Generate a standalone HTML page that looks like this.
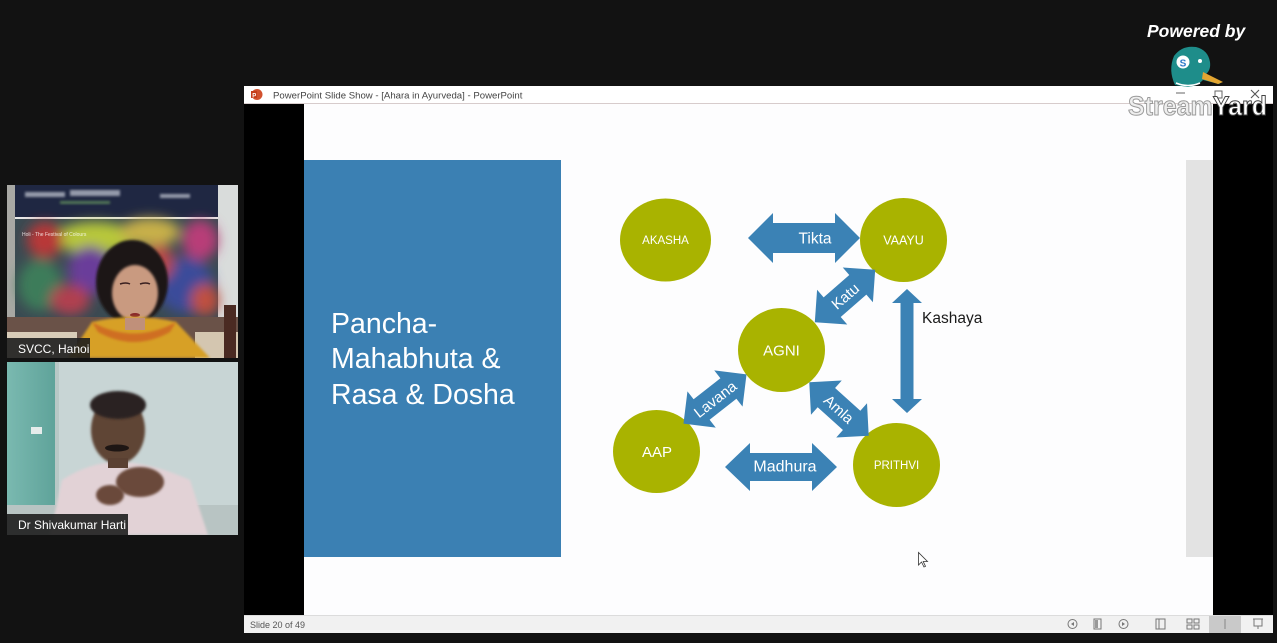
<!DOCTYPE html>
<html>
<head>
<meta charset="utf-8">
<style>
  html,body{margin:0;padding:0;background:#121212;}
  body{width:1277px;height:643px;overflow:hidden;position:relative;font-family:"Liberation Sans",sans-serif;}
  svg{position:absolute;left:0;top:0;}
</style>
</head>
<body>
<svg width="1277" height="643" viewBox="0 0 1277 643" xmlns="http://www.w3.org/2000/svg" font-family="Liberation Sans, sans-serif">
  <defs>
    <filter id="b3" x="-20%" y="-20%" width="140%" height="140%"><feGaussianBlur stdDeviation="3"/></filter>
    <filter id="b6" x="-30%" y="-30%" width="160%" height="160%"><feGaussianBlur stdDeviation="6"/></filter>
    <filter id="b1"><feGaussianBlur stdDeviation="1.2"/></filter>
    <clipPath id="t1"><rect x="7" y="185" width="231" height="173"/></clipPath>
    <clipPath id="t2"><rect x="7" y="362" width="231" height="173"/></clipPath>
    <linearGradient id="wall2" x1="0" y1="0" x2="1" y2="0">
      <stop offset="0" stop-color="#7ab9b0"/>
      <stop offset="1" stop-color="#5fa39a"/>
    </linearGradient>
  </defs>

  <!-- background -->
  <rect x="0" y="0" width="1277" height="643" fill="#121212"/>

  <!-- ===== Video tile 1 ===== -->
  <g clip-path="url(#t1)">
    <rect x="7" y="185" width="231" height="173" fill="#b9b9b6"/>
    <rect x="218" y="185" width="20" height="140" fill="#d9dcdb"/>
    <rect x="7" y="185" width="9" height="140" fill="#a8a8a4"/>
    <!-- navy banner -->
    <rect x="15" y="185" width="203" height="32" fill="#1f2742"/>
    <g filter="url(#b1)" fill="#c8ccd8" opacity="0.7">
      <rect x="25" y="192" width="40" height="5"/>
      <rect x="70" y="190" width="50" height="6"/>
      <rect x="160" y="194" width="30" height="4"/>
      <rect x="60" y="201" width="50" height="3" fill="#6a9a60"/>
    </g>
    <rect x="15" y="217" width="203" height="2" fill="#e8e8e8"/>
    <!-- painting -->
    <rect x="15" y="219" width="203" height="99" fill="#3a4a52"/>
    <g filter="url(#b6)">
      <ellipse cx="95" cy="238" rx="40" ry="16" fill="#b8c83a"/>
      <ellipse cx="45" cy="240" rx="18" ry="18" fill="#b83838"/>
      <ellipse cx="150" cy="232" rx="30" ry="14" fill="#c8b048"/>
      <ellipse cx="200" cy="240" rx="18" ry="20" fill="#b83c78"/>
      <ellipse cx="90" cy="270" rx="22" ry="24" fill="#6a3c9a"/>
      <ellipse cx="185" cy="285" rx="28" ry="28" fill="#3a4c9a"/>
      <ellipse cx="40" cy="285" rx="22" ry="26" fill="#3c7c5a"/>
      <ellipse cx="70" cy="300" rx="20" ry="15" fill="#b04050"/>
      <ellipse cx="205" cy="300" rx="14" ry="16" fill="#c05040"/>
      <ellipse cx="160" cy="262" rx="14" ry="18" fill="#b84a48"/>
    </g>
    <text x="22" y="236" font-size="5" fill="#ffffff" opacity="0.8">Holi - The Festival of Colours</text>
    <!-- wall / chair below -->
    <rect x="7" y="317" width="231" height="41" fill="#6a5248"/>
    <rect x="7" y="332" width="70" height="26" fill="#d8ccb8"/>
    <rect x="195" y="332" width="43" height="26" fill="#d4c6b0"/>
    <rect x="224" y="305" width="12" height="53" fill="#4a2a22"/>
    <!-- woman -->
    <ellipse cx="132" cy="282" rx="36" ry="42" fill="#1c1616" filter="url(#b1)"/>
    <ellipse cx="135" cy="293" rx="23" ry="28" fill="#c99a80" filter="url(#b1)"/>
    <ellipse cx="135" cy="315" rx="5" ry="2" fill="#8a2a2a"/>
    <path d="M120 284 q6 -2 10 0 M140 284 q6 -2 10 0" stroke="#3a2020" stroke-width="1.5" fill="none"/>
    <path d="M68 358 L92 322 Q134 312 176 322 L210 358 Z" fill="#d7a026" filter="url(#b1)"/>
    <path d="M92 322 Q134 345 176 322 L170 332 Q134 352 98 332 Z" fill="#cf6e20" filter="url(#b1)"/>
    <rect x="125" y="318" width="20" height="12" fill="#c0907a"/>
  </g>
  <rect x="7" y="338" width="83" height="20" fill="#1e1e1e" opacity="0.9"/>
  <text x="18" y="353" font-size="12" fill="#ffffff">SVCC, Hanoi</text>

  <!-- ===== Video tile 2 ===== -->
  <g clip-path="url(#t2)">
    <rect x="7" y="362" width="231" height="173" fill="#c8d5d5"/>
    <rect x="7" y="362" width="48" height="173" fill="url(#wall2)"/>
    <rect x="55" y="362" width="4" height="173" fill="#b8c8c6"/>
    <rect x="31" y="427" width="11" height="7" fill="#e6eceb"/>
    <rect x="7" y="505" width="231" height="30" fill="#b8c4c3"/>
    <!-- man -->
    <path d="M50 535 L62 480 Q90 462 118 462 Q150 462 190 480 L208 535 Z" fill="#e2d2d6" filter="url(#b1)"/>
    <ellipse cx="118" cy="430" rx="27" ry="34" fill="#5e4436" filter="url(#b1)"/>
    <ellipse cx="118" cy="405" rx="28" ry="14" fill="#2a2220" filter="url(#b1)"/>
    <ellipse cx="117" cy="448" rx="12" ry="3.5" fill="#1e1614"/>
    <rect x="108" y="458" width="20" height="10" fill="#5a4032"/>
    <ellipse cx="140" cy="482" rx="24" ry="15" fill="#6a4a3a" filter="url(#b1)"/>
    <ellipse cx="110" cy="495" rx="14" ry="10" fill="#6a4a3a" filter="url(#b1)"/>
  </g>
  <rect x="7" y="514" width="121" height="21" fill="#1e1e1e" opacity="0.9"/>
  <text x="18" y="529" font-size="12" fill="#ffffff">Dr Shivakumar Harti</text>

  <!-- ===== PowerPoint window ===== -->
  <rect x="244" y="86" width="1029" height="547" fill="#000000"/>
  <!-- title bar -->
  <rect x="244" y="86" width="1029" height="17" fill="#ffffff"/>
  <rect x="244" y="103" width="1029" height="1" fill="#d7cccc"/>
  <circle cx="257" cy="94.5" r="5.5" fill="#d2512e"/>
  <rect x="251" y="91" width="6" height="7" fill="#c43e1c"/>
  <text x="252.2" y="97.3" font-size="6" font-weight="bold" fill="#ffffff">P</text>
  <text x="273" y="98.5" font-size="9.6" fill="#444444">PowerPoint Slide Show - [Ahara in Ayurveda] - PowerPoint</text>
  <!-- window controls -->
  <line x1="1176" y1="93" x2="1185" y2="93" stroke="#666" stroke-width="1"/>
  <rect x="1215" y="91" width="7" height="7" fill="none" stroke="#666" stroke-width="1"/>
  <path d="M1251 90 L1259 98 M1259 90 L1251 98" stroke="#555" stroke-width="1.1"/>

  <!-- slide -->
  <rect x="304" y="104" width="909" height="511" fill="#fdfdfe"/>
  <rect x="304" y="160" width="257" height="397" fill="#3b80b3"/>
  <rect x="1186" y="160" width="27" height="397" fill="#e3e3e3"/>
  <g font-size="28.5" fill="#ffffff">
    <text x="331" y="333">Pancha-</text>
    <text x="331" y="368">Mahabhuta &amp;</text>
    <text x="331" y="404">Rasa &amp; Dosha</text>
  </g>

  <!-- circles -->
  <g fill="#a9b300">
    <ellipse cx="665.5" cy="240" rx="45.5" ry="41.5"/>
    <ellipse cx="903.5" cy="240" rx="43.5" ry="42"/>
    <ellipse cx="781.5" cy="350" rx="43.5" ry="42"/>
    <ellipse cx="656.5" cy="451.5" rx="43.5" ry="41.5"/>
    <ellipse cx="896.5" cy="465" rx="43.5" ry="42"/>
  </g>
  <g fill="#ffffff" text-anchor="middle">
    <text x="665.5" y="244" font-size="11.5">AKASHA</text>
    <text x="903.5" y="244.5" font-size="12.5">VAAYU</text>
    <text x="781.5" y="355.5" font-size="15">AGNI</text>
    <text x="657" y="457" font-size="15">AAP</text>
    <text x="896.5" y="469" font-size="11.5">PRITHVI</text>
  </g>

  <!-- arrows -->
  <g fill="#3b82b5">
    <polygon transform="translate(804,238)" points="-56,0 -31,-25 -31,-15 31,-15 31,-25 56,0 31,25 31,15 -31,15 -31,25"/>
    <polygon transform="translate(781,467)" points="-56,0 -31,-24 -31,-14 31,-14 31,-24 56,0 31,24 31,14 -31,14 -31,24"/>
    <polygon transform="translate(907,351) rotate(90)" points="-62,0 -48,-15 -48,-6.5 48,-6.5 48,-15 62,0 48,15 48,6.5 -48,6.5 -48,15"/>
    <polygon transform="translate(845,296) rotate(-41)" points="-40,0 -17,-23 -17,-13 17,-13 17,-23 40,0 17,23 17,13 -17,13 -17,23"/>
    <polygon transform="translate(715,399) rotate(-38)" points="-40,0 -17,-23 -17,-13 17,-13 17,-23 40,0 17,23 17,13 -17,13 -17,23"/>
    <polygon transform="translate(839,409) rotate(42)" points="-40,0 -17,-23 -17,-13 17,-13 17,-23 40,0 17,23 17,13 -17,13 -17,23"/>
  </g>
  <g fill="#ffffff" text-anchor="middle">
    <text x="815" y="243.5" font-size="15.5">Tikta</text>
    <text x="785" y="471.5" font-size="16">Madhura</text>
    <text transform="translate(845,296) rotate(-41)" y="5.5" font-size="15">Katu</text>
    <text transform="translate(715,399) rotate(-38)" y="5.5" font-size="15">Lavana</text>
    <text transform="translate(839,409) rotate(42)" y="5.5" font-size="15">Amla</text>
  </g>
  <text x="922" y="323" font-size="15.5" fill="#1a1a1a">Kashaya</text>

  <!-- mouse cursor -->
  <path d="M918.5 552.5 L918.5 565 L921.5 562 L924 567 L925.5 566.3 L923.2 561.5 L927.5 561.5 Z" fill="#ffffff" stroke="#333" stroke-width="0.8"/>

  <!-- status bar -->
  <rect x="244" y="615" width="1029" height="18" fill="#f1f1f1"/>
  <rect x="244" y="615" width="1029" height="1" fill="#dcdcdc"/>
  <text x="250" y="628" font-size="9" fill="#555555">Slide 20 of 49</text>
  <rect x="1209" y="616" width="32" height="17" fill="#c9c9c9"/>
  <g fill="none" stroke="#777" stroke-width="1">
    <circle cx="1072.5" cy="624" r="4.5"/>
    <rect x="1094" y="619" width="7" height="10"/>
    <circle cx="1123.5" cy="624" r="4.5"/>
    <rect x="1156" y="619" width="9" height="10"/>
    <line x1="1159" y1="619" x2="1159" y2="629"/>
    <rect x="1187" y="619" width="5" height="4"/>
    <rect x="1194" y="619" width="5" height="4"/>
    <rect x="1187" y="625" width="5" height="4"/>
    <rect x="1194" y="625" width="5" height="4"/>
    <line x1="1225" y1="619" x2="1225" y2="629" stroke="#888"/>
    <path d="M1253 619 L1263 619 M1254 619 L1254 626 L1262 626 L1262 619 M1258 626 L1258 629"/>
  </g>
  <polygon points="1071,624 1074,622 1074,626" fill="#777"/>
  <polygon points="1125,624 1122,622 1122,626" fill="#777"/>
  <rect x="1095" y="620" width="3" height="8" fill="#999"/>

  <!-- ===== StreamYard branding ===== -->
  <text x="1147" y="37" font-size="17.5" font-weight="bold" font-style="italic" fill="#ffffff">Powered by</text>
  <!-- duck -->
  <g>
    <path d="M1175 85 Q1168 70 1174 56 Q1182 45 1196 47 Q1208 50 1210 62 Q1211 70 1206 74 L1222 82 L1219 84 L1203 80 Q1198 86 1188 87 Z" fill="#1e8d8a"/>
    <path d="M1203 72 L1223 82 L1218 84 L1202 79 Z" fill="#e2a531"/>
    <path d="M1176 83 Q1188 88 1200 83" stroke="#ffffff" stroke-width="1.5" fill="none"/>
    <circle cx="1200" cy="61" r="2" fill="#ffffff"/>
    <circle cx="1183" cy="62" r="6.5" fill="#ffffff"/>
    <text x="1183" y="66.5" font-size="10" font-weight="bold" fill="#2c78c8" text-anchor="middle">S</text>
  </g>
  <text x="1128" y="115" font-size="27" font-weight="bold" fill="#eeeeee" stroke="#9a9a9a" stroke-width="1" textLength="139" lengthAdjust="spacingAndGlyphs">Stream<tspan fill="#ffffff" stroke="#444">Yard</tspan></text>
</svg>
</body>
</html>
